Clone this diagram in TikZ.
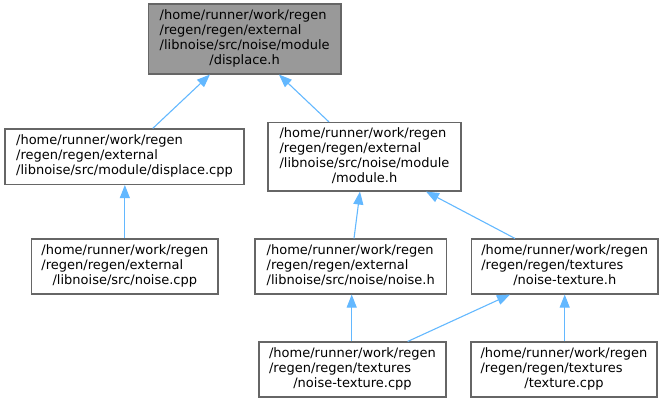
\documentclass[tikz,border=0pt]{standalone}
\usepackage{fontspec}
\setmainfont{DejaVu Sans}
\usetikzlibrary{arrows.meta}
\definecolor{edgeblue}{HTML}{63B8FF}
\definecolor{boxline}{HTML}{666666}
\definecolor{boxgray}{HTML}{999999}
\newcommand{\flab}[2]{\begin{tabular}{@{}l@{}}#1\\\multicolumn{1}{@{}c@{}}{#2}\end{tabular}}
\tikzset{
  filebox/.style={draw=boxline, line width=1.1pt, fill=white, inner sep=0pt,
    font=\fontsize{13}{15}\selectfont, align=center},
  mainbox/.style={filebox, fill=boxgray},
  edge/.style={draw=edgeblue, line width=1.1pt, -{Triangle[length=13pt,width=10pt]}}
}
\begin{document}
\begin{tikzpicture}[x=1pt,y=-1pt]
\path[use as bounding box] (0,0) rectangle (663,403);
\node[mainbox, minimum width=192.7pt, minimum height=70pt] (top) at (244.65,39)
  {\flab{/home/runner/work/regen\\/regen/regen/external\\/libnoise/src/noise/module}{/displace.h}};
\node[filebox, minimum width=239pt, minimum height=55.5pt] (dispcpp) at (124.5,156.75)
  {\flab{/home/runner/work/regen\\/regen/regen/external}{/libnoise/src/module/displace.cpp}};
\node[filebox, minimum width=186.3pt, minimum height=55pt] (noisecpp) at (124.85,266.5)
  {\flab{/home/runner/work/regen\\/regen/regen/external}{/libnoise/src/noise.cpp}};
\node[filebox, minimum width=193pt, minimum height=68.5pt] (module) at (364.5,156.75)
  {\flab{/home/runner/work/regen\\/regen/regen/external\\/libnoise/src/noise/module}{/module.h}};
\node[filebox, minimum width=191.5pt, minimum height=55pt] (noiseh) at (350.75,266.5)
  {\flab{/home/runner/work/regen\\/regen/regen/external}{/libnoise/src/noise/noise.h}};
\node[filebox, minimum width=186.5pt, minimum height=55pt] (ntexh) at (564.75,266.5)
  {\flab{/home/runner/work/regen\\/regen/regen/textures}{/noise-texture.h}};
\node[filebox, minimum width=187pt, minimum height=55pt] (ntexcpp) at (352.5,369.5)
  {\flab{/home/runner/work/regen\\/regen/regen/textures}{/noise-texture.cpp}};
\node[filebox, minimum width=186pt, minimum height=55pt] (texcpp) at (564,369.5)
  {\flab{/home/runner/work/regen\\/regen/regen/textures}{/texture.cpp}};
\draw[edge] ([xshift=28.2pt]dispcpp.north) -- ([xshift=-34.7pt]top.south);
\draw[edge] ([xshift=-35.5pt]module.north) -- ([xshift=34.3pt]top.south);
\draw[edge] (noisecpp.north) -- (noisecpp.north |- dispcpp.south);
\draw[edge] ([xshift=3.25pt]noiseh.north) -- ([xshift=-4.5pt]module.south);
\draw[edge] ([xshift=-49.75pt]ntexh.north) -- ([xshift=61.5pt]module.south);
\draw[edge] ([xshift=-0.8pt]ntexcpp.north) -- ([xshift=-0.8pt]ntexcpp.north |- noiseh.south);
\draw[edge] ([xshift=55.2pt]ntexcpp.north) -- ([xshift=-54.75pt]ntexh.south);
\draw[edge] ([xshift=0.7pt]texcpp.north) -- ([xshift=0.7pt]texcpp.north |- ntexh.south);
\end{tikzpicture}
\end{document}
